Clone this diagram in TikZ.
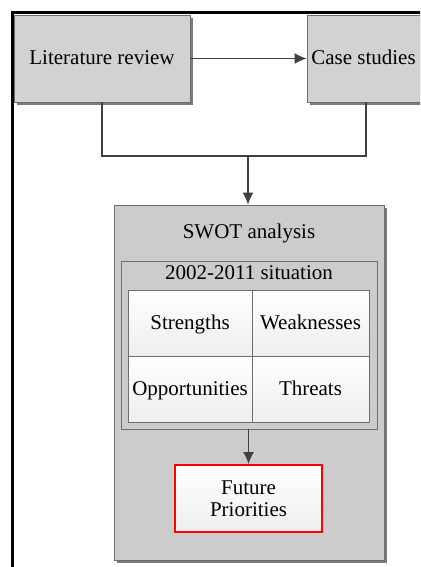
\documentclass[tikz,border=0pt]{standalone}
\usepackage{fontspec}
\setmainfont{Liberation Serif}
\usetikzlibrary{arrows.meta,shadows}
\definecolor{boxgray}{HTML}{D2D2D2}
\definecolor{swotgray}{HTML}{CCCCCC}
\definecolor{edgegray}{HTML}{6E6E6E}
\definecolor{shadowgray}{HTML}{7A7A7A}
\definecolor{linegray}{HTML}{404040}
\definecolor{cellbot}{HTML}{EEEEEE}
\tikzset{
  every node/.style={font=\fontsize{21}{22}\selectfont, inner sep=0pt},
  oneline/.style={text height=14pt, text depth=1pt},
  graybox/.style={oneline, draw=edgegray, line width=0.9pt, fill=boxgray, rectangle,
    drop shadow={shadow xshift=3pt, shadow yshift=-3pt, fill=shadowgray, opacity=1}},
  swotbox/.style={draw=edgegray, line width=0.9pt, fill=swotgray, rectangle,
    drop shadow={shadow xshift=3pt, shadow yshift=-3pt, fill=shadowgray, opacity=1}},
  innerbox/.style={draw=edgegray, line width=0.9pt, fill=swotgray, rectangle},
  cellbox/.style={oneline, draw=edgegray, line width=0.8pt, rectangle, top color=white, bottom color=cellbot, align=center},
  futurebox/.style={draw=red, line width=2pt, rectangle, top color=white, bottom color=cellbot, align=center},
  conn/.style={draw=linegray, line width=1.3pt},
  arr/.style={conn, -{Latex[length=12pt,width=11pt]}},
  frame/.style={draw=black, line width=3pt}
}
\begin{document}
\begin{tikzpicture}[x=1pt,y=-1pt]
\useasboundingbox (0,0) rectangle (420,567);
\clip (0,0) rectangle (420,567);
\draw[frame] (12.5,12.5) rectangle (460,620);
% top boxes
\node[graybox, minimum width=176pt, minimum height=87pt] (lit) at (102,58.5) {Literature review};
\node[graybox, minimum width=118pt, minimum height=87pt] (case) at (366,58.5) {\hspace*{-5pt}Case studies};
\draw[arr] (lit.east) -- (case.west);
% SWOT container
\node[swotbox, minimum width=270pt, minimum height=355pt] (swot) at (249,382.5) {};
\node[oneline] (swottitle) at (249,232) {SWOT analysis};
\node[innerbox, minimum width=256pt, minimum height=168pt] (sit) at (249,345) {};
\node[oneline] (sittitle) at (249,273) {2002-2011 situation};
\node[cellbox, minimum width=124pt, minimum height=66pt] (str) at (190,323) {Strengths};
\node[cellbox, minimum width=117pt, minimum height=66pt] (weak) at (310.5,323) {Weaknesses};
\node[cellbox, minimum width=124pt, minimum height=66pt] (opp) at (190,389) {Opportunities};
\node[cellbox, minimum width=117pt, minimum height=66pt] (thr) at (310.5,389) {Threats};
\node[futurebox, minimum width=147pt, minimum height=67pt] (fut) at (248.5,498.5) {Future\\Priorities};
% connectors
\coordinate (join) at (248,156);
\draw[conn] (lit.south) -- (lit.south |- join) -- (case.south |- join) -- (case.south);
\draw[arr] (join) -- (swot.north -| join);
\draw[arr] (sit.south -| fut.north) -- (fut.north);
\end{tikzpicture}
\end{document}
